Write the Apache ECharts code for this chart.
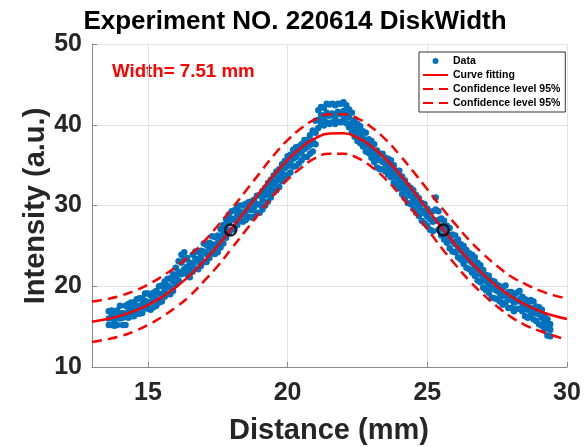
<!DOCTYPE html>
<html>
<head>
<meta charset="utf-8">
<script src="https://cdn.jsdelivr.net/npm/echarts@6/dist/echarts.min.js"></script>
<style>html,body{margin:0;padding:0;background:#fff}#c{width:588px;height:447px}</style>
</head>
<body>
<div id="c"></div>
<script>
// x positions of the measured points (mm)
const dataX = [13.6,13.7,13.8,13.9,14.0,14.1,14.2,14.3,14.4,14.5,
14.6,14.7,14.8,14.9,15.0,15.1,15.2,15.3,15.4,15.5,
15.6,15.7,15.8,15.9,16.0,16.1,16.2,16.3,16.4,16.5,
16.6,16.7,16.8,16.9,17.0,17.1,17.2,17.3,17.4,17.5,
17.6,17.7,17.8,17.9,18.0,18.1,18.2,18.3,18.4,18.5,
18.6,18.7,18.8,18.9,19.0,19.1,19.2,19.3,19.4,19.5,
19.6,19.7,19.8,19.9,20.0,20.1,20.2,20.3,20.4,20.5,
20.6,20.7,20.8,20.9,21.0,21.1,21.2,21.3,21.4,21.5,
21.6,21.7,21.8,21.9,22.0,22.1,22.2,22.3,22.4,22.5,
22.6,22.7,22.8,22.9,23.0,23.1,23.2,23.3,23.4,23.5,
23.6,23.7,23.8,23.9,24.0,24.1,24.2,24.3,24.4,24.5,
24.6,24.7,24.8,24.9,25.0,25.1,25.2,25.3,25.4,25.5,
25.6,25.7,25.8,25.9,26.0,26.1,26.2,26.3,26.4,26.5,
26.6,26.7,26.8,26.9,27.0,27.1,27.2,27.3,27.4,27.5,
27.6,27.7,27.8,27.9,28.0,28.1,28.2,28.3,28.4,28.5,
28.6,28.7,28.8,28.9,29.0,29.1,29.2,29.3,29.4];
// upper edge of the point cloud
const dataYHigh = [16.9,17.0,16.9,17.0,17.6,16.7,17.6,17.8,18.0,18.0,
18.4,18.5,18.5,19.1,19.1,18.9,19.2,19.4,20.0,20.1,
20.6,20.9,21.0,21.5,22.3,23.1,23.9,24.2,23.5,22.9,
23.9,24.3,24.2,24.4,25.3,25.1,25.4,26.2,26.1,26.3,
27.1,27.6,28.3,28.9,29.3,29.4,29.8,30.0,30.0,30.2,
30.4,30.5,30.7,31.2,31.3,31.8,32.2,32.8,33.2,33.7,
34.2,34.5,35.1,35.5,36.1,36.3,36.9,37.2,37.3,37.6,
38.1,38.1,38.7,39.3,40.5,41.8,42.2,42.1,42.6,42.5,
42.6,42.4,42.6,42.6,42.8,42.4,41.9,41.5,40.6,40.1,
39.8,39.2,39.0,38.2,38.0,37.6,36.8,36.4,36.4,35.9,
35.8,35.6,35.0,34.3,34.3,33.6,33.1,32.5,32.2,31.9,
31.3,30.9,30.3,30.2,29.6,29.2,29.3,31.0,29.3,28.4,
28.1,27.5,27.2,26.4,26.3,25.8,25.2,25.0,24.5,24.1,
23.9,23.6,22.9,22.6,22.0,21.4,21.3,20.7,20.6,20.2,
20.0,19.8,20.1,19.3,19.3,18.9,19.2,19.4,18.7,18.4,
18.0,18.3,18.1,17.5,17.4,17.1,16.4,15.9,15.3];
// middle of the point cloud
const dataYMid = [16.0,16.3,15.8,16.2,16.6,16.1,16.4,16.9,17.3,17.0,
17.6,17.4,17.8,18.2,17.9,18.1,18.6,18.4,19.1,19.0,
19.6,20.1,19.8,20.6,21.2,21.8,22.9,23.3,22.4,22.1,
22.8,23.4,23.0,23.6,24.3,24.0,24.7,25.2,24.9,25.4,
25.9,26.6,27.0,27.8,28.4,28.2,28.8,29.2,28.9,29.3,
29.6,29.4,29.8,30.2,30.1,30.7,31.3,31.6,32.2,32.6,
33.0,33.5,34.0,34.6,34.9,35.3,35.8,36.0,36.4,36.6,
37.0,37.2,37.5,38.0,39.0,40.6,41.2,40.8,41.5,41.1,
41.4,41.0,41.6,41.3,41.7,41.2,40.9,40.2,39.5,39.2,
38.8,38.3,37.9,37.4,37.0,36.4,35.9,35.6,35.4,35.2,
34.9,34.5,34.0,33.5,33.1,32.6,32.0,31.6,31.2,30.7,
30.3,29.8,29.4,29.0,28.6,28.3,28.0,29.5,28.2,27.4,
27.0,26.5,26.0,25.5,25.2,24.8,24.4,23.8,23.5,23.2,
22.9,22.4,22.0,21.5,21.0,20.6,20.2,19.8,19.6,19.4,
19.1,18.8,18.9,18.5,18.3,18.0,18.1,18.4,17.9,17.4,
17.1,17.3,17.0,16.7,16.5,16.1,15.6,15.0,14.6];
// lower edge of the point cloud
const dataYLow = [15.2,15.2,15.1,15.2,16.0,15.2,15.2,16.1,16.3,16.3,
16.6,16.6,16.7,17.3,17.2,17.1,17.4,17.6,18.0,18.1,
18.7,19.0,19.0,19.4,20.2,20.7,21.5,22.1,21.5,21.1,
21.8,22.2,22.1,22.5,23.0,23.0,23.5,24.1,24.0,24.2,
24.8,25.3,26.0,26.6,27.0,27.1,27.6,28.2,28.0,28.2,
28.6,28.5,28.6,29.1,29.1,29.5,30.0,30.5,31.0,31.6,
31.9,32.3,33.0,33.3,33.8,34.1,34.8,34.9,35.2,35.6,
36.0,36.0,36.4,36.7,37.6,39.6,40.1,39.9,40.3,40.1,
40.3,40.1,40.4,40.3,40.6,40.2,39.7,39.1,38.5,38.0,
37.7,37.3,36.7,36.5,35.9,35.4,34.7,34.5,34.5,34.2,
33.8,33.5,32.8,32.4,32.1,31.4,30.9,30.3,30.2,29.6,
29.1,28.7,28.1,27.8,27.5,27.0,26.8,28.1,27.0,26.3,
25.8,25.4,24.7,24.3,24.2,23.6,23.3,22.8,22.3,22.1,
21.7,21.3,20.7,20.5,19.8,19.5,19.2,18.6,18.5,18.4,
18.1,17.7,18.0,17.3,17.3,16.9,17.2,17.2,16.9,16.3,
16.1,16.4,15.9,15.7,15.3,15.1,14.7,13.9,13.8];
// fitted curve and 95% confidence bounds
const fitX = [13,13.5,14,14.5,15,15.5,16,16.5,17,17.5,18,18.5,19,19.5,20,20.5,21,21.5,22,22.5,23,23.5,24,24.5,25,25.5,26,26.5,27,27.5,28,28.5,29,29.5,30];
const fitY = [15.60,15.91,16.33,16.91,17.67,18.65,19.87,21.34,23.07,25.02,27.15,29.38,31.62,33.75,35.65,37.21,38.33,38.92,38.94,38.40,37.32,35.79,33.91,31.79,29.56,27.32,25.18,23.22,21.47,19.98,18.74,17.74,16.96,16.37,15.94];
const upperY = [18.1,18.4,18.8,19.4,20.2,21.2,22.4,23.8,25.5,27.5,29.6,31.8,34.0,36.2,38.1,39.6,40.7,41.3,41.3,40.8,39.7,38.2,36.3,34.2,32.0,29.8,27.7,25.7,24.0,22.5,21.2,20.3,19.5,18.9,18.5];
const lowerY = [13.1,13.4,13.8,14.4,15.2,16.2,17.4,18.8,20.6,22.5,24.7,26.9,29.1,31.3,33.2,34.7,35.9,36.4,36.4,35.9,34.8,33.3,31.4,29.3,27.1,24.8,22.7,20.7,19.0,17.5,16.2,15.2,14.5,13.9,13.4];
// half-maximum markers
const markX = [17.96, 25.57];
const markY = [26.97, 26.97];
// ticks
const xTicks = [15, 20, 25, 30];
const yTicks = [10, 20, 30, 40, 50];

const FONT = '"Liberation Sans", Arial, Helvetica, sans-serif';
const pts = [];
for (let i = 0; i < dataX.length; i++) {
  pts.push([dataX[i], dataYHigh[i]], [dataX[i], dataYMid[i]], [dataX[i], dataYLow[i]]);
}
const zip = (a, b) => a.map((v, i) => [v, b[i]]);
const RED = '#ff0000';
const noSym = {opacity: 0, color: RED, borderWidth: 0};

const chart = echarts.init(document.getElementById('c'), null, {renderer: 'canvas'});
chart.setOption({
  animation: false,
  backgroundColor: '#fff',
  grid: {left: 92, top: 44, width: 475, height: 323, containLabel: false},
  xAxis: {
    type: 'value', min: 13, max: 30,
    axisLine: {show: true, onZero: false, lineStyle: {color: '#8a8a8a', width: 1}},
    axisTick: {show: true, inside: true, length: 5, customValues: xTicks, lineStyle: {color: '#8a8a8a'}},
    axisLabel: {customValues: xTicks, margin: 14, color: '#262626', fontFamily: FONT, fontWeight: 'bold', fontSize: 25},
    splitLine: {show: true, lineStyle: {color: '#e3e3e3', width: 1}}
  },
  yAxis: {
    type: 'value', min: yTicks[0], max: yTicks[yTicks.length - 1], interval: 10,
    axisLine: {show: true, onZero: false, lineStyle: {color: '#8a8a8a', width: 1}},
    axisTick: {show: true, inside: true, length: 5, lineStyle: {color: '#8a8a8a'}},
    axisLabel: {margin: 10, color: '#262626', fontFamily: FONT, fontWeight: 'bold', fontSize: 25},
    splitLine: {show: true, lineStyle: {color: '#e3e3e3', width: 1}}
  },
  legend: {
    orient: 'vertical', left: 419, top: 52,
    backgroundColor: '#fff', borderColor: '#333', borderWidth: 1, borderRadius: 0,
    padding: [3, 2, 3, 3], itemWidth: 25, itemHeight: 6, itemGap: 2,
    textStyle: {fontFamily: FONT, fontWeight: 'bold', fontSize: 10.5, color: '#000', lineHeight: 12},
    data: [
      {name: 'Data'},
      {name: 'Curve fitting', itemStyle: noSym},
      {name: 'Confidence level 95%', itemStyle: noSym},
      {name: 'Confidence level 95% ', itemStyle: noSym}
    ]
  },
  series: [
    {name: 'Data', type: 'scatter', data: pts, symbol: 'circle', symbolSize: 6.5,
     itemStyle: {color: '#0072BD', opacity: 1}, z: 2},
    {name: 'Curve fitting', type: 'line', data: zip(fitX, fitY), smooth: true, symbol: 'none',
     itemStyle: {color: RED}, lineStyle: {color: RED, width: 2.5}, z: 3},
    {name: 'Confidence level 95%', type: 'line', data: zip(fitX, upperY), smooth: true, symbol: 'none',
     itemStyle: {color: RED}, lineStyle: {color: RED, width: 2.5, type: [10, 6]}, z: 3},
    {name: 'Confidence level 95% ', type: 'line', data: zip(fitX, lowerY), smooth: true, symbol: 'none',
     itemStyle: {color: RED}, lineStyle: {color: RED, width: 2.5, type: [10, 6]}, z: 3},
    {name: 'marks', type: 'scatter', data: zip(markX, markY), symbol: 'circle', symbolSize: 11,
     itemStyle: {color: 'rgba(0,0,0,0)', borderColor: '#000', borderWidth: 2.5}, z: 4}
  ],
  graphic: [
    {type: 'text', x: 295, y: 22, style: {text: 'Experiment NO. 220614 DiskWidth', textAlign: 'center', textVerticalAlign: 'middle', font: 'bold 26px ' + FONT, fill: '#000'}},
    {type: 'text', x: 329, y: 431, style: {text: 'Distance (mm)', textAlign: 'center', textVerticalAlign: 'middle', font: 'bold 29px ' + FONT, fill: '#262626'}},
    {type: 'text', x: 36, y: 206, rotation: Math.PI / 2, style: {text: 'Intensity (a.u.)', textAlign: 'center', textVerticalAlign: 'middle', font: 'bold 29px ' + FONT, fill: '#262626'}},
    {type: 'text', x: 112, y: 72, style: {text: 'Width= 7.51 mm', textAlign: 'left', textVerticalAlign: 'middle', font: 'bold 18.7px ' + FONT, fill: RED}}
  ]
});
</script>
</body>
</html>
